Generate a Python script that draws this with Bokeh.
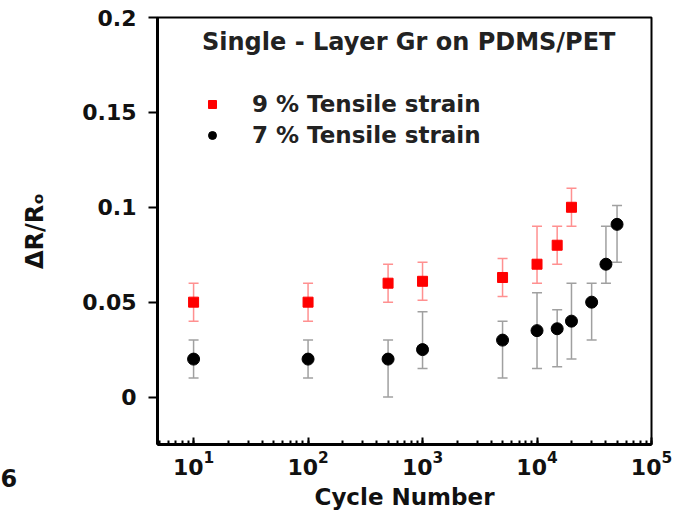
import math
from bokeh.plotting import figure
from bokeh.models import (ColumnDataSource, Range1d, FixedTicker, Whisker, TeeHead,
                          Legend, LegendItem, Label)
from bokeh.embed import file_html
from bokeh.resources import INLINE

# ---- data ----
cycles_9 = [10, 100, 500, 1000, 5000, 10000, 15000, 20000]
dr_9 = [0.050, 0.050, 0.060, 0.061, 0.063, 0.070, 0.080, 0.100]
dr_9_low = [0.040, 0.040, 0.050, 0.051, 0.053, 0.060, 0.070, 0.090]
dr_9_high = [0.060, 0.060, 0.070, 0.071, 0.073, 0.090, 0.090, 0.110]

cycles_7 = [10, 100, 500, 1000, 5000, 10000, 15000, 20000, 30000, 40000, 50000]
dr_7 = [0.020, 0.020, 0.020, 0.025, 0.030, 0.035, 0.036, 0.040, 0.050, 0.070, 0.091]
dr_7_low = [0.010, 0.010, 0.000, 0.015, 0.010, 0.015, 0.016, 0.020, 0.030, 0.060, 0.071]
dr_7_high = [0.030, 0.030, 0.030, 0.045, 0.040, 0.055, 0.046, 0.060, 0.060, 0.090, 0.101]

y_ticks = [0, 0.05, 0.1, 0.15, 0.2]
y_tick_labels = ["0", "0.05", "0.1", "0.15", "0.2"]

series_9_name = "9 % Tensile strain"
series_7_name = "7 % Tensile strain"
legend_title = "Single - Layer Gr on PDMS/PET"
x_title = "Cycle Number"
y_title = "ΔR/Rₒ"
panel_fragment = "6"

FONT = "DejaVu Sans"

src9 = ColumnDataSource(dict(x=cycles_9, y=dr_9, lo=dr_9_low, hi=dr_9_high))
src7 = ColumnDataSource(dict(x=cycles_7, y=dr_7, lo=dr_7_low, hi=dr_7_high))

p = figure(width=695, height=523, x_axis_type="log",
           x_range=Range1d(4.84, 1e5), y_range=Range1d(-0.025, 0.2),
           output_backend="svg", toolbar_location=None,
           min_border_left=157, min_border_right=44,
           min_border_top=17, min_border_bottom=79)

p.xgrid.visible = False
p.ygrid.visible = False
p.outline_line_color = "black"
p.outline_line_width = 2
p.background_fill_color = "white"
p.border_fill_color = "white"

# error bars
w9 = Whisker(source=src9, base="x", upper="hi", lower="lo", dimension="height",
             line_color="#ff9090", line_width=1.5, level="underlay",
             upper_head=TeeHead(size=10, line_color="#ff9090", line_width=1.5),
             lower_head=TeeHead(size=10, line_color="#ff9090", line_width=1.5))
w7 = Whisker(source=src7, base="x", upper="hi", lower="lo", dimension="height",
             line_color="#a0a0a0", line_width=1.5, level="underlay",
             upper_head=TeeHead(size=10, line_color="#a0a0a0", line_width=1.5),
             lower_head=TeeHead(size=10, line_color="#a0a0a0", line_width=1.5))
p.add_layout(w9)
p.add_layout(w7)

r9 = p.scatter("x", "y", source=src9, marker="square", size=10,
               fill_color="#ff0000", line_color="#ff0000")
r7 = p.scatter("x", "y", source=src7, marker="circle", size=12,
               fill_color="black", line_color="black")

legend = Legend(items=[LegendItem(label=series_9_name, renderers=[r9]),
                       LegendItem(label=series_7_name, renderers=[r7])],
                location=(45, 296), title=legend_title,
                title_text_font=FONT, title_text_font_style="bold",
                title_text_font_size="24px", title_text_color="#222222",
                title_standoff=35,
                label_text_font=FONT, label_text_font_style="bold",
                label_text_font_size="23px", label_text_color="#222222",
                glyph_width=20, glyph_height=20, label_standoff=30,
                spacing=5, padding=4, margin=0,
                border_line_color=None, background_fill_alpha=0)
p.add_layout(legend, "center")

# x axis
xa = p.xaxis[0]
xa.axis_label = x_title
xa.axis_label_text_font = FONT
xa.axis_label_text_font_style = "bold"
xa.axis_label_text_font_size = "23px"
xa.axis_label_text_color = "#111111"
xa.axis_label_standoff = 6
xa.major_label_text_font = FONT
xa.major_label_text_font_style = "bold"
xa.major_label_text_font_size = "22px"
xa.major_label_text_color = "#111111"
xa.major_label_standoff = 6
xa.axis_line_width = 3
xa.major_tick_in = 7
xa.major_tick_out = 0
xa.minor_tick_in = 4
xa.minor_tick_out = 0
xa.major_tick_line_width = 2
xa.minor_tick_line_width = 2

# y axis
ya = p.yaxis[0]
ya.ticker = FixedTicker(ticks=y_ticks)
ya.major_label_overrides = {t: s for t, s in zip(y_ticks, y_tick_labels)}
ya.major_label_text_font = FONT
ya.major_label_text_font_style = "bold"
ya.major_label_text_font_size = "22px"
ya.major_label_text_color = "#111111"
ya.major_label_standoff = 12
ya.axis_line_width = 3
ya.major_tick_in = 0
ya.major_tick_out = 9
ya.major_tick_line_width = 2
ya.minor_tick_line_color = None
ya.axis_label = y_title
ya.axis_label_text_font = FONT
ya.axis_label_text_font_style = "bold"
ya.axis_label_text_font_size = "24px"
ya.axis_label_text_color = "#111111"
ya.axis_label_standoff = 30

# fragment of neighbouring panel label (placed in the left side panel)
p.add_layout(Label(x=0, y=477, x_units="canvas", y_units="canvas", text=panel_fragment,
                   text_align="left", text_baseline="middle",
                   text_font=FONT, text_font_style="bold", text_font_size="24px",
                   text_color="#111111"), "left")

open("out.html", "w").write(file_html(p, INLINE))
